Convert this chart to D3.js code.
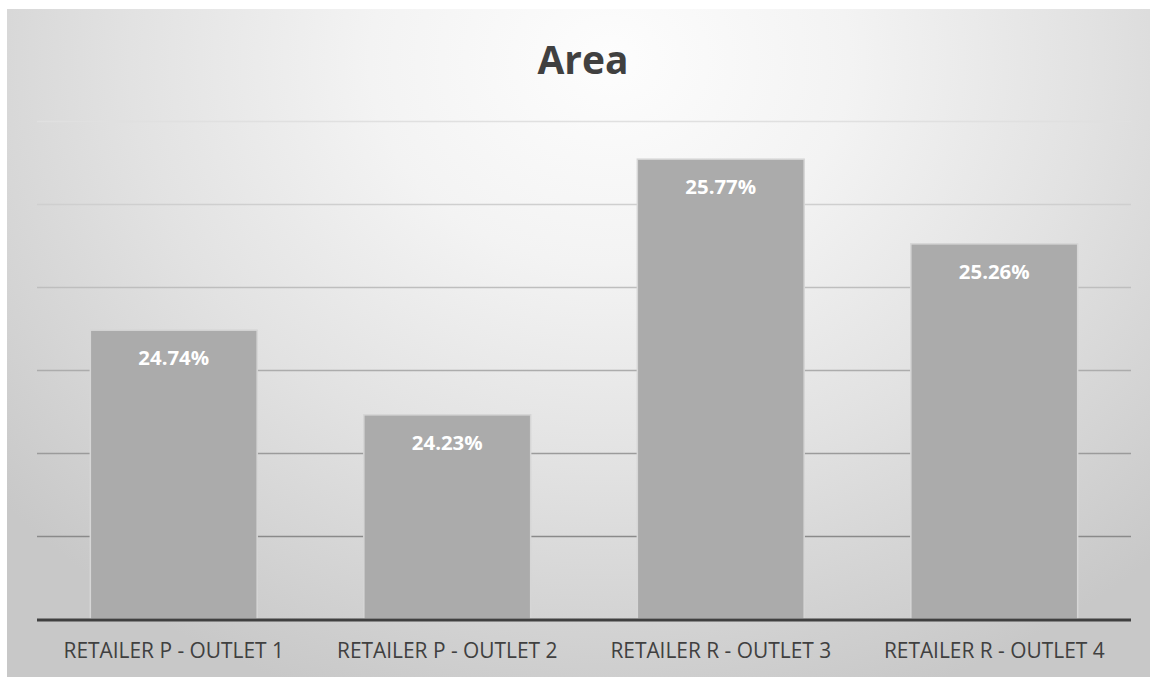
<!DOCTYPE html>
<html>
<head>
<meta charset="utf-8">
<script src="https://cdn.jsdelivr.net/npm/d3@7"></script>
<style>
  body { margin: 0; background: #fff; }
  svg text { font-family: "Open Sans", "Noto Sans", sans-serif; }
</style>
</head>
<body>
<div id="chart"></div>
<script>
var categories = ["RETAILER P - OUTLET 1", "RETAILER P - OUTLET 2", "RETAILER R - OUTLET 3", "RETAILER R - OUTLET 4"];
var values = [0.2474, 0.2423, 0.2577, 0.2526];
var yTicks = [0.235, 0.24, 0.245, 0.25, 0.255, 0.26];
var title = "Area";

var width = 1154, height = 678;
var svg = d3.select("#chart").append("svg")
  .attr("width", width).attr("height", height);

// size a text selection so its first item matches a target width
function fitWidth(sel, target) {
  var node = sel.node();
  var fs = parseFloat(sel.attr("font-size"));
  var w = node.getComputedTextLength();
  sel.attr("font-size", (fs * target / w).toFixed(1));
}

var defs = svg.append("defs");
var bg = defs.append("radialGradient").attr("id", "bg")
  .attr("gradientUnits", "userSpaceOnUse")
  .attr("cx", 610).attr("cy", 60).attr("r", 800)
  .attr("gradientTransform", "translate(610,60) scale(1,0.85) translate(-610,-60)");
bg.append("stop").attr("offset", "0").attr("stop-color", "#fdfdfd");
bg.append("stop").attr("offset", "0.3").attr("stop-color", "#f3f3f3");
bg.append("stop").attr("offset", "0.6").attr("stop-color", "#e2e2e2");
bg.append("stop").attr("offset", "1").attr("stop-color", "#c8c8c8");

// chart background
svg.append("rect")
  .attr("x", 7).attr("y", 9).attr("width", 1143).attr("height", 668)
  .attr("fill", "url(#bg)");

var margin = { left: 37, right: 23 };
var x = d3.scaleBand().domain(categories)
  .range([margin.left, width - margin.right])
  .paddingInner(0.39).paddingOuter(0.195);
var y = d3.scaleLinear().domain([0.23, 0.26]).range([619, 121]);

// gridlines darker toward the bottom
var gridColor = d3.scaleLinear().domain([121, 536]).range(["#e0e0e0", "#8a8a8a"]);
svg.append("g").selectAll("line")
  .data(yTicks)
  .enter().append("line")
  .attr("x1", margin.left).attr("x2", width - margin.right)
  .attr("y1", function (d) { return Math.round(y(d)) + 0.5; })
  .attr("y2", function (d) { return Math.round(y(d)) + 0.5; })
  .attr("stroke", function (d) { return gridColor(y(d)); })
  .attr("stroke-width", 1.3);

// bars
svg.append("g").selectAll("rect")
  .data(values)
  .enter().append("rect")
  .attr("x", function (d, i) { return x(categories[i]); })
  .attr("y", function (d) { return y(d); })
  .attr("width", x.bandwidth())
  .attr("height", function (d) { return y(0.23) - y(d); })
  .attr("fill", "#ababab")
  .attr("stroke", "#d6d6d6")
  .attr("stroke-width", 1.5);

// data labels
var labels = svg.append("g").selectAll("text")
  .data(values)
  .enter().append("text")
  .attr("x", function (d, i) { return x(categories[i]) + x.bandwidth() / 2; })
  .attr("y", function (d) { return y(d) + 35; })
  .attr("text-anchor", "middle")
  .attr("font-size", 18)
  .attr("font-weight", "bold")
  .attr("fill", "#ffffff")
  .text(function (d) { return d3.format(".2%")(d); });
fitWidth(labels, 71);

// baseline
svg.append("line")
  .attr("x1", margin.left).attr("x2", width - margin.right)
  .attr("y1", 620).attr("y2", 620)
  .attr("stroke", "#404040").attr("stroke-width", 3);

// x axis labels
var xAxis = d3.axisBottom(x).tickSize(0).tickPadding(0);
var gx = svg.append("g").attr("transform", "translate(0,658)").call(xAxis);
gx.select(".domain").remove();
var ticks = gx.selectAll("text")
  .attr("dy", 0)
  .attr("font-size", 18)
  .attr("fill", "#404040")
  .style("font-family", "'Open Sans', 'Noto Sans', sans-serif");
fitWidth(ticks, 220);

// title
var t = svg.append("text")
  .attr("x", 583).attr("y", 74)
  .attr("text-anchor", "middle")
  .attr("font-size", 36)
  .attr("font-weight", "bold")
  .attr("fill", "#404040")
  .text(title);
fitWidth(t, 91);
</script>
</body>
</html>
